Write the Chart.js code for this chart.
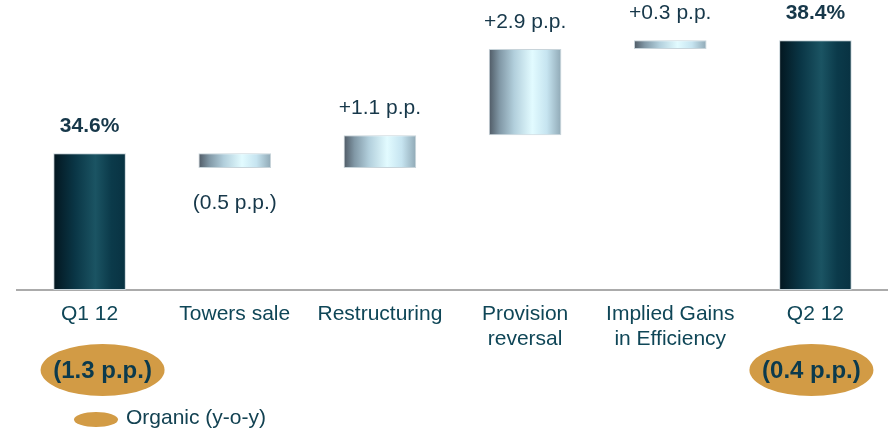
<!DOCTYPE html>
<html>
<head>
<meta charset="utf-8">
<title>Q1 12 to Q2 12 margin bridge</title>
<script src="https://cdn.jsdelivr.net/npm/chart.js@4.4.1/dist/chart.umd.min.js"></script>
<style>
  html, body { margin: 0; padding: 0; background: #ffffff; }
  #wrap { width: 888px; height: 432px; position: relative; }
</style>
</head>
<body>
<div id="wrap"><canvas id="chart"></canvas></div>
<script>
// Chart data
const categories = ['Q1 12', 'Towers sale', 'Restructuring', ['Provision', 'reversal'], ['Implied Gains', 'in Efficiency'], 'Q2 12'];
const totals = [34.6, null, null, null, null, 38.4];   // full bars (%)
const changes = [null, -0.5, 1.1, 2.9, 0.3, null];     // bridge steps (p.p.)
const organic = ['(1.3 p.p.)', null, null, null, null, '(0.4 p.p.)'];
const legendText = 'Organic (y-o-y)';
const axisMin = 30;
const axisMax = 39.75;

const FONT = "'Liberation Sans', Arial, sans-serif";

// Build floating ranges for the waterfall
let running = 0;
const ranges = categories.map((c, i) => {
  if (totals[i] !== null) {
    running = totals[i];
    return [axisMin, totals[i]];
  }
  const start = running;
  running = Math.round((running + changes[i]) * 10) / 10;
  return [start, running];
});

// Label text for each bar
function barLabel(i) {
  if (totals[i] !== null) return totals[i].toFixed(1) + '%';
  if (changes[i] < 0) return '(' + Math.abs(changes[i]).toFixed(1) + ' p.p.)';
  return '+' + changes[i].toFixed(1) + ' p.p.';
}

// Horizontal gradient across each bar
function barFill(ctx) {
  const chart = ctx.chart;
  if (!chart.chartArea || ctx.type !== 'data') return '#0a3a4a';
  const xs = chart.scales.x;
  const cx = xs.getPixelForValue(ctx.dataIndex);
  const half = xs.width / categories.length * 0.5 / 2;
  const g = chart.ctx.createLinearGradient(cx - half, 0, cx + half, 0);
  if (totals[ctx.dataIndex] !== null) {
    g.addColorStop(0, '#03161f');
    g.addColorStop(0.3, '#0a3646');
    g.addColorStop(0.58, '#1b5463');
    g.addColorStop(0.8, '#0b3a4a');
    g.addColorStop(1, '#083242');
  } else {
    g.addColorStop(0, '#4e5964');
    g.addColorStop(0.15, '#8198a6');
    g.addColorStop(0.35, '#b2cfdc');
    g.addColorStop(0.6, '#e2fbff');
    g.addColorStop(0.8, '#c6e4f0');
    g.addColorStop(1, '#8fa8b5');
  }
  return g;
}

// Value labels, organic ovals and the small legend
const decorations = {
  id: 'decorations',
  afterDatasetsDraw(chart) {
    const c = chart.ctx;
    const meta = chart.getDatasetMeta(0);
    c.save();
    c.textAlign = 'center';
    c.textBaseline = 'alphabetic';
    meta.data.forEach((bar, i) => {
      const top = Math.min(bar.y, bar.base);
      const bottom = Math.max(bar.y, bar.base);
      if (totals[i] !== null) {
        c.font = 'bold 21px ' + FONT;
        c.fillStyle = '#17384a';
        c.fillText(barLabel(i), bar.x, top - 21);
      } else if (changes[i] < 0) {
        c.font = '21px ' + FONT;
        c.fillStyle = '#17384a';
        c.fillText(barLabel(i), bar.x, bottom + 41);
      } else {
        c.font = '21px ' + FONT;
        c.fillStyle = '#17384a';
        c.fillText(barLabel(i), bar.x, top - 21);
      }
    });

    // organic ovals under the total bars
    const shift = [13, 0, 0, 0, 0, -4];
    organic.forEach((txt, i) => {
      if (!txt) return;
      const cx = chart.scales.x.getPixelForValue(i) + shift[i];
      c.fillStyle = '#d29b45';
      c.beginPath();
      c.ellipse(cx, 370, 62, 26, 0, 0, Math.PI * 2);
      c.fill();
      c.font = 'bold 24px ' + FONT;
      c.fillStyle = '#0b3a4d';
      c.textBaseline = 'middle';
      c.fillText(txt, cx, 371);
    });

    // legend
    c.fillStyle = '#d29b45';
    c.beginPath();
    c.ellipse(96, 419.5, 22, 7.5, 0, 0, Math.PI * 2);
    c.fill();
    c.font = '21px ' + FONT;
    c.fillStyle = '#134252';
    c.textAlign = 'left';
    c.textBaseline = 'middle';
    c.fillText(legendText, 126, 418);
    c.restore();
  }
};

new Chart(document.getElementById('chart'), {
  type: 'bar',
  data: {
    labels: categories,
    datasets: [{
      data: ranges,
      backgroundColor: barFill,
      borderColor: '#c8d4da',
      borderWidth: 1,
      borderSkipped: false,
      categoryPercentage: 1,
      barPercentage: 0.5
    }]
  },
  options: {
    responsive: true,
    maintainAspectRatio: false,
    animation: false,
    layout: { padding: { left: 17, right: 0, top: 0, bottom: 0 } },
    plugins: {
      legend: { display: false },
      tooltip: { enabled: false }
    },
    scales: {
      x: {
        grid: { display: false, drawTicks: false, tickLength: 0 },
        border: { display: true, color: '#ababab', width: 2 },
        ticks: {
          color: '#0f4657',
          padding: 12,
          maxRotation: 0,
          autoSkip: false,
          font: { family: FONT, size: 21, lineHeight: '25px' }
        },
        afterFit(scale) { scale.height = 142; }
      },
      y: {
        display: false,
        min: axisMin,
        max: axisMax
      }
    }
  },
  plugins: [decorations]
});
</script>
</body>
</html>
